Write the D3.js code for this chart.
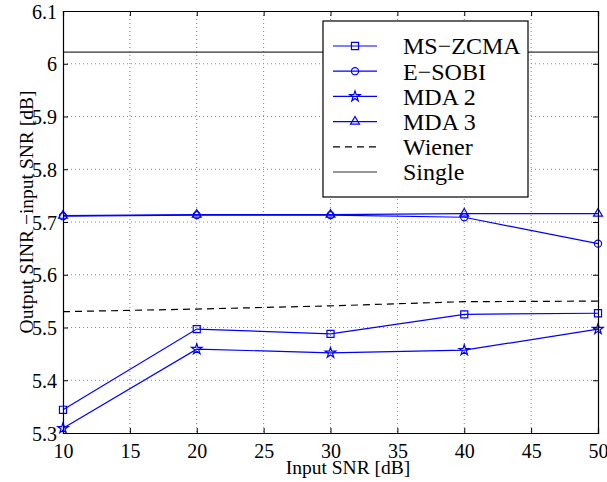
<!DOCTYPE html>
<html>
<head>
<meta charset="utf-8">
<script src="https://cdn.jsdelivr.net/npm/d3@7"></script>
<style>
  text { font-family: 'Liberation Serif', 'Times New Roman', serif !important; }
</style>
</head>
<body style="margin:0">
<div class="chart"></div>
<script>
const snr = [10, 20, 30, 40, 50]
const msZcma = [5.344, 5.497, 5.488, 5.525, 5.527]
const eSobi = [5.711, 5.713, 5.713, 5.709, 5.659]
const mda2 = [5.309, 5.459, 5.452, 5.457, 5.497]
const mda3 = [5.712, 5.714, 5.714, 5.716, 5.716]
const wiener = [5.530, 5.535, 5.541, 5.549, 5.550]
const single = [6.022, 6.022, 6.022, 6.022, 6.022]

const xTicks = [10, 15, 20, 25, 30, 35, 40, 45, 50]
const yTicks = [5.3, 5.4, 5.5, 5.6, 5.7, 5.8, 5.9, 6, 6.1]

const series = [
  { name: 'MS\u2212ZCMA', values: msZcma, color: '#0000ff', symbol: d3.symbolSquare, size: 50 },
  { name: 'E\u2212SOBI', values: eSobi, color: '#0000ff', symbol: d3.symbolCircle, size: 40 },
  { name: 'MDA 2', values: mda2, color: '#0000ff', symbol: d3.symbolStar, size: 34 },
  { name: 'MDA 3', values: mda3, color: '#0000ff', symbol: d3.symbolTriangle, size: 34 },
  { name: 'Wiener', values: wiener, color: '#000', dash: '7,5' },
  { name: 'Single', values: single, color: '#333' }
]

const FONT = 'Liberation Serif'

const W = 607, H = 482
const margin = { top: 11, right: 9, bottom: 49, left: 63 }
const width = W - margin.left - margin.right
const height = H - margin.top - margin.bottom

const x = d3.scaleLinear().domain([10, 50]).range([0, width])
const y = d3.scaleLinear().domain([5.3, 6.1]).range([height, 0])

const svg = d3.select('.chart').append('svg')
  .attr('width', W)
  .attr('height', H)
  .attr('font-family', FONT)

const g = svg.append('g')
  .attr('transform', `translate(${margin.left},${margin.top})`)

// grid
g.append('g').selectAll('line').data(xTicks.slice(1, -1)).join('line')
  .attr('x1', d => x(d)).attr('x2', d => x(d))
  .attr('y1', 0).attr('y2', height)
  .attr('stroke', '#888').attr('stroke-width', 1).attr('stroke-dasharray', '1,3')
g.append('g').selectAll('line').data(yTicks.slice(1, -1)).join('line')
  .attr('y1', d => y(d)).attr('y2', d => y(d))
  .attr('x1', 0).attr('x2', width)
  .attr('stroke', '#888').attr('stroke-width', 1).attr('stroke-dasharray', '1,3')

// data
const line = d3.line().x((d, i) => x(snr[i])).y(d => y(d))
series.forEach(s => {
  g.append('path')
    .datum(s.values)
    .attr('d', line)
    .attr('fill', 'none')
    .attr('stroke', s.color)
    .attr('stroke-width', 1.2)
    .attr('stroke-dasharray', s.dash || null)
  if (s.symbol) {
    g.append('g').selectAll('path').data(s.values).join('path')
      .attr('transform', (d, i) => `translate(${x(snr[i])},${y(d)})`)
      .attr('d', d3.symbol(s.symbol, s.size))
      .attr('fill', 'none')
      .attr('stroke', s.color)
      .attr('stroke-width', 1.2)
  }
})

// axes with inward ticks, MATLAB box style
const fmt = d => String(+d.toFixed(1))
const xAxis = d3.axisBottom(x).tickValues(xTicks).tickSize(-5).tickPadding(11).tickFormat(fmt)
const yAxis = d3.axisLeft(y).tickValues(yTicks).tickSize(-5).tickPadding(10).tickFormat(fmt)

const xa = g.append('g').attr('transform', `translate(0,${height})`).call(xAxis)
const ya = g.append('g').call(yAxis)
g.append('g').call(d3.axisTop(x).tickValues(xTicks).tickSize(-5).tickFormat(''))
g.append('g').attr('transform', `translate(${width},0)`)
  .call(d3.axisRight(y).tickValues(yTicks).tickSize(-5).tickFormat(''))

g.selectAll('.domain').attr('stroke', '#000').attr('stroke-width', 1.2)
g.selectAll('.tick line').attr('stroke', '#000')
xa.attr('font-family', FONT).attr('font-size', 20)
ya.attr('font-family', FONT).attr('font-size', 20)
g.selectAll('.tick text').attr('font-family', FONT).style('font-family', FONT)
xa.selectAll('text').attr('dy', '0.71em')
ya.selectAll('text').attr('dx', '4').attr('dy', '0.35em')

// axis labels
svg.append('text')
  .attr('x', 348).attr('y', 474)
  .attr('text-anchor', 'middle')
  .attr('font-family', FONT)
  .attr('font-size', 19.5)
  .text('Input SNR [dB]')
svg.append('text')
  .attr('transform', 'translate(33,212) rotate(-90)')
  .attr('text-anchor', 'middle')
  .attr('font-family', FONT)
  .attr('font-size', 19.5)
  .text('Output SINR \u2212input SNR [dB]')

// legend
const legend = svg.append('g').attr('transform', 'translate(323,21)')
legend.append('rect')
  .attr('width', 205).attr('height', 176)
  .attr('fill', '#fff').attr('stroke', '#000').attr('stroke-width', 1.2)
const rowY = i => 25 + i * 25.2
series.forEach((s, i) => {
  const row = legend.append('g').attr('transform', `translate(0,${rowY(i)})`)
  row.append('line')
    .attr('x1', 10).attr('x2', 54)
    .attr('stroke', s.color).attr('stroke-width', 1.2)
    .attr('stroke-dasharray', s.dash || null)
  if (s.symbol) {
    row.append('path')
      .attr('transform', 'translate(32,0)')
      .attr('d', d3.symbol(s.symbol, s.size))
      .attr('fill', 'none')
      .attr('stroke', s.color)
      .attr('stroke-width', 1.2)
  }
  row.append('text')
    .attr('x', 80).attr('dy', '0.35em')
    .attr('font-family', FONT)
    .attr('font-size', 24)
    .text(s.name)
})
</script>
</body>
</html>
